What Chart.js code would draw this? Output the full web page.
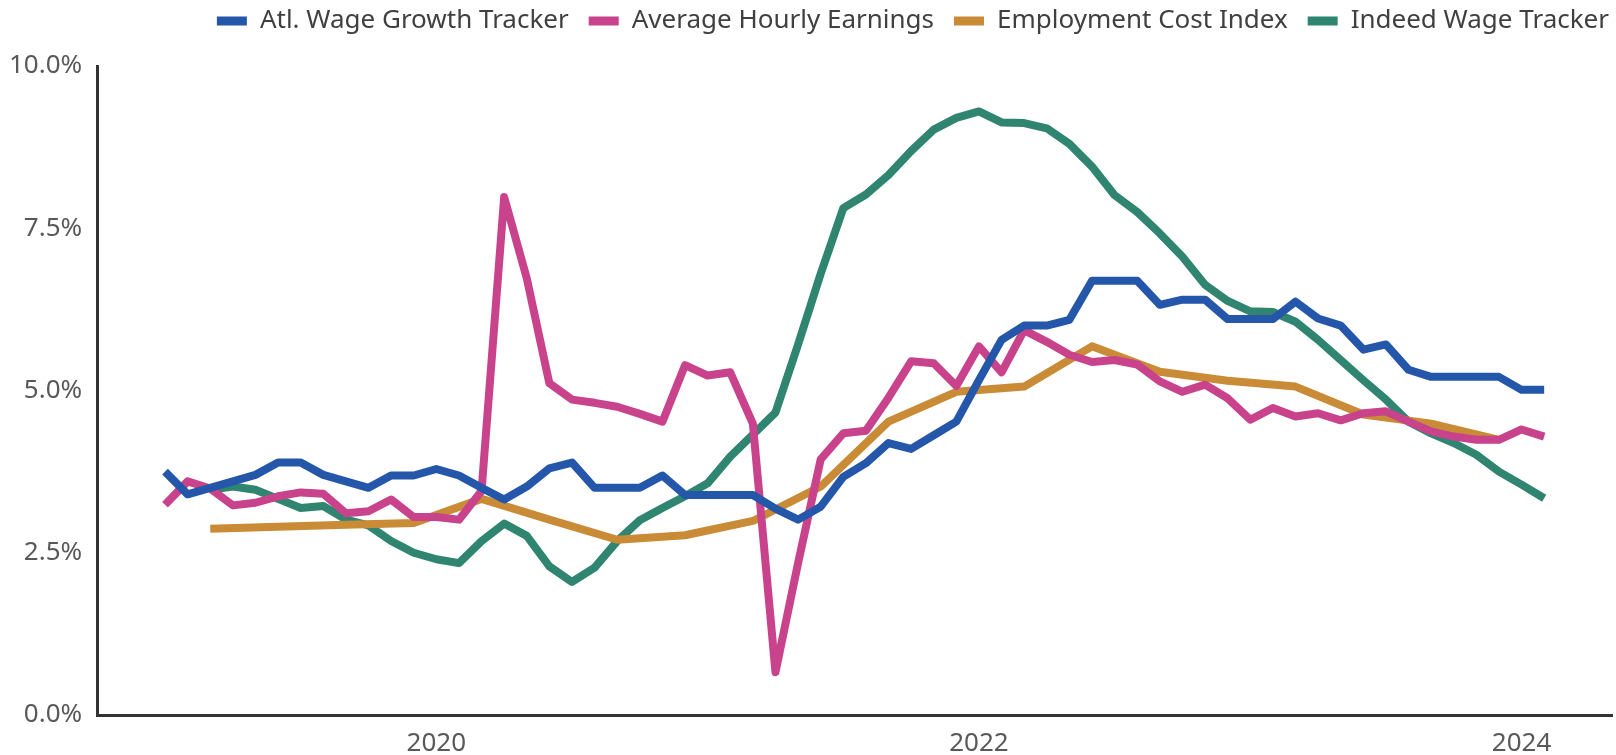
<!DOCTYPE html>
<html>
<head>
<meta charset="utf-8">
<title>Wage growth trackers</title>
<script src="https://cdn.jsdelivr.net/npm/chart.js@4.4.1/dist/chart.umd.min.js"></script>
<style>
  html, body { margin: 0; padding: 0; background: #fff; }
  #wrap { width: 1616px; height: 755px; position: relative; }
</style>
</head>
<body>
<div id="wrap"><canvas id="chart"></canvas></div>
<script>
// x axis runs Oct 2018 .. May 2024 (monthly), ticks only on these years
const firstMonth = { year: 2018, month: 10 };
const monthCount = 68;
const yearTicks = ["2020", "2022", "2024"];
const yTicks = [0, 2.5, 5, 7.5, 10];

// monthly series, Jan 2019 .. Feb 2024
const atlStart = "2019-01";
const atlWage = [3.75, 3.4, 3.5, 3.6, 3.7, 3.89, 3.89, 3.7, 3.6, 3.5, 3.69, 3.69,
  3.79, 3.69, 3.5, 3.32, 3.52, 3.8, 3.89, 3.5, 3.5, 3.5, 3.69, 3.39,
  3.39, 3.39, 3.39, 3.18, 3.01, 3.21, 3.67, 3.88, 4.19, 4.1, 4.31, 4.52,
  5.16, 5.78, 6.0, 6.0, 6.09, 6.69, 6.69, 6.69, 6.32, 6.4, 6.4, 6.1,
  6.1, 6.1, 6.37, 6.11, 6.0, 5.63, 5.71, 5.32, 5.21, 5.21, 5.21, 5.21,
  5.01, 5.01];

const aheStart = "2019-01";
const avgHourly = [3.24, 3.6, 3.49, 3.23, 3.27, 3.37, 3.43, 3.41, 3.11, 3.14, 3.32, 3.05,
  3.05, 3.01, 3.45, 7.98, 6.73, 5.11, 4.86, 4.81, 4.75, 4.64, 4.52, 5.39,
  5.23, 5.28, 4.49, 0.66, 2.34, 3.94, 4.34, 4.38, 4.89, 5.45, 5.42, 5.07,
  5.68, 5.28, 5.93, 5.75, 5.55, 5.44, 5.47, 5.4, 5.14, 4.98, 5.09, 4.88,
  4.55, 4.73, 4.6, 4.65, 4.54, 4.65, 4.68, 4.52, 4.37, 4.29, 4.24, 4.24,
  4.4, 4.29];

// Indeed starts Mar 2019
const indeedStart = "2019-03";
const indeed = [3.47, 3.52, 3.47, 3.33, 3.19, 3.22, 3.01, 2.92, 2.68, 2.5,
  2.4, 2.34, 2.68, 2.95, 2.76, 2.29, 2.05, 2.27, 2.68, 3.0, 3.19, 3.37,
  3.57, 3.98, 4.32, 4.66, 5.71, 6.8, 7.81, 8.02, 8.32, 8.69, 9.02, 9.2,
  9.3, 9.13, 9.12, 9.04, 8.8, 8.45, 8.01, 7.75, 7.42, 7.06, 6.63, 6.38,
  6.22, 6.21, 6.06, 5.78, 5.47, 5.16, 4.86, 4.52, 4.34, 4.19, 4.01, 3.75,
  3.55, 3.34];

// ECI is quarterly
const eciMonths = ["2019-03", "2019-06", "2019-09", "2019-12", "2020-03", "2020-06", "2020-09", "2020-12",
  "2021-03", "2021-06", "2021-09", "2021-12", "2022-03", "2022-06", "2022-09", "2022-12",
  "2023-03", "2023-06", "2023-09", "2023-12"];
const eci = [2.87, 2.9, 2.93, 2.96, 3.33, 3.01, 2.7, 2.77,
  2.99, 3.52, 4.52, 4.98, 5.06, 5.68, 5.29, 5.15,
  5.06, 4.63, 4.49, 4.24];

const months = [];
for (let k = 0; k < monthCount; k++) {
  const m0 = firstMonth.month - 1 + k;
  const y = firstMonth.year + Math.floor(m0 / 12);
  const m = (m0 % 12) + 1;
  months.push(y + "-" + ("0" + m).slice(-2));
}

function toPoints(start, values) {
  const s = months.indexOf(start);
  return values.map((v, k) => ({ x: months[s + k], y: v }));
}

const FONT = "'Noto Sans', 'Open Sans', sans-serif";

const series = [
  { label: "Atl. Wage Growth Tracker", color: "#2457aa", data: toPoints(atlStart, atlWage) },
  { label: "Average Hourly Earnings", color: "#c8438b", data: toPoints(aheStart, avgHourly) },
  { label: "Employment Cost Index", color: "#c98b35", data: eciMonths.map((m, k) => ({ x: m, y: eci[k] })) },
  { label: "Indeed Wage Tracker", color: "#2f8570", data: toPoints(indeedStart, indeed) }
];

// push the legend up/right a bit and leave a gap under it
const legendTweak = {
  id: "legendTweak",
  beforeInit(chart) {
    const fit = chart.legend.fit;
    chart.legend.fit = function () { fit.call(this); this.height += 10; };
  },
  afterLayout(chart) {
    chart.legend.top -= 12;
    chart.legend.right += 17;
  }
};

new Chart(document.getElementById("chart"), {
  type: "line",
  data: {
    labels: months,
    datasets: series.map(s => ({
      label: s.label,
      data: s.data,
      borderColor: s.color,
      backgroundColor: s.color,
      borderWidth: 8,
      borderJoinStyle: "round",
      pointRadius: 0,
      tension: 0,
      fill: false
    }))
  },
  plugins: [legendTweak],
  options: {
    responsive: true,
    maintainAspectRatio: false,
    animation: false,
    layout: { padding: { left: -6, right: 4, top: 0, bottom: -18 } },
    plugins: {
      tooltip: { enabled: false },
      legend: {
        position: "top",
        align: "end",
        labels: {
          boxWidth: 30,
          boxHeight: 9,
          padding: 20,
          color: "#404040",
          font: { family: FONT, size: 26 },
          generateLabels: chart => Chart.defaults.plugins.legend.labels.generateLabels(chart)
            .map(item => Object.assign(item, { lineWidth: 0 }))
        }
      }
    },
    scales: {
      x: {
        type: "category",
        offset: false,
        grid: { display: false, drawTicks: false },
        border: { display: true, color: "#333", width: 3 },
        ticks: {
          autoSkip: false,
          maxRotation: 0,
          padding: 16,
          color: "#595959",
          font: { family: FONT, size: 26, lineHeight: 1 },
          callback: function (val) {
            const lab = this.getLabelForValue(val);
            const [y, m] = lab.split("-");
            return (m === "01" && yearTicks.includes(y)) ? y : null;
          }
        }
      },
      y: {
        min: 0,
        max: 10,
        afterBuildTicks: axis => { axis.ticks = yTicks.map(v => ({ value: v })); },
        grid: { display: false, drawTicks: false },
        border: { display: true, color: "#333", width: 3 },
        ticks: {
          padding: 15,
          color: "#595959",
          font: { family: FONT, size: 26, lineHeight: 1 },
          callback: v => v.toFixed(1) + "%"
        }
      }
    }
  }
});
</script>
</body>
</html>
